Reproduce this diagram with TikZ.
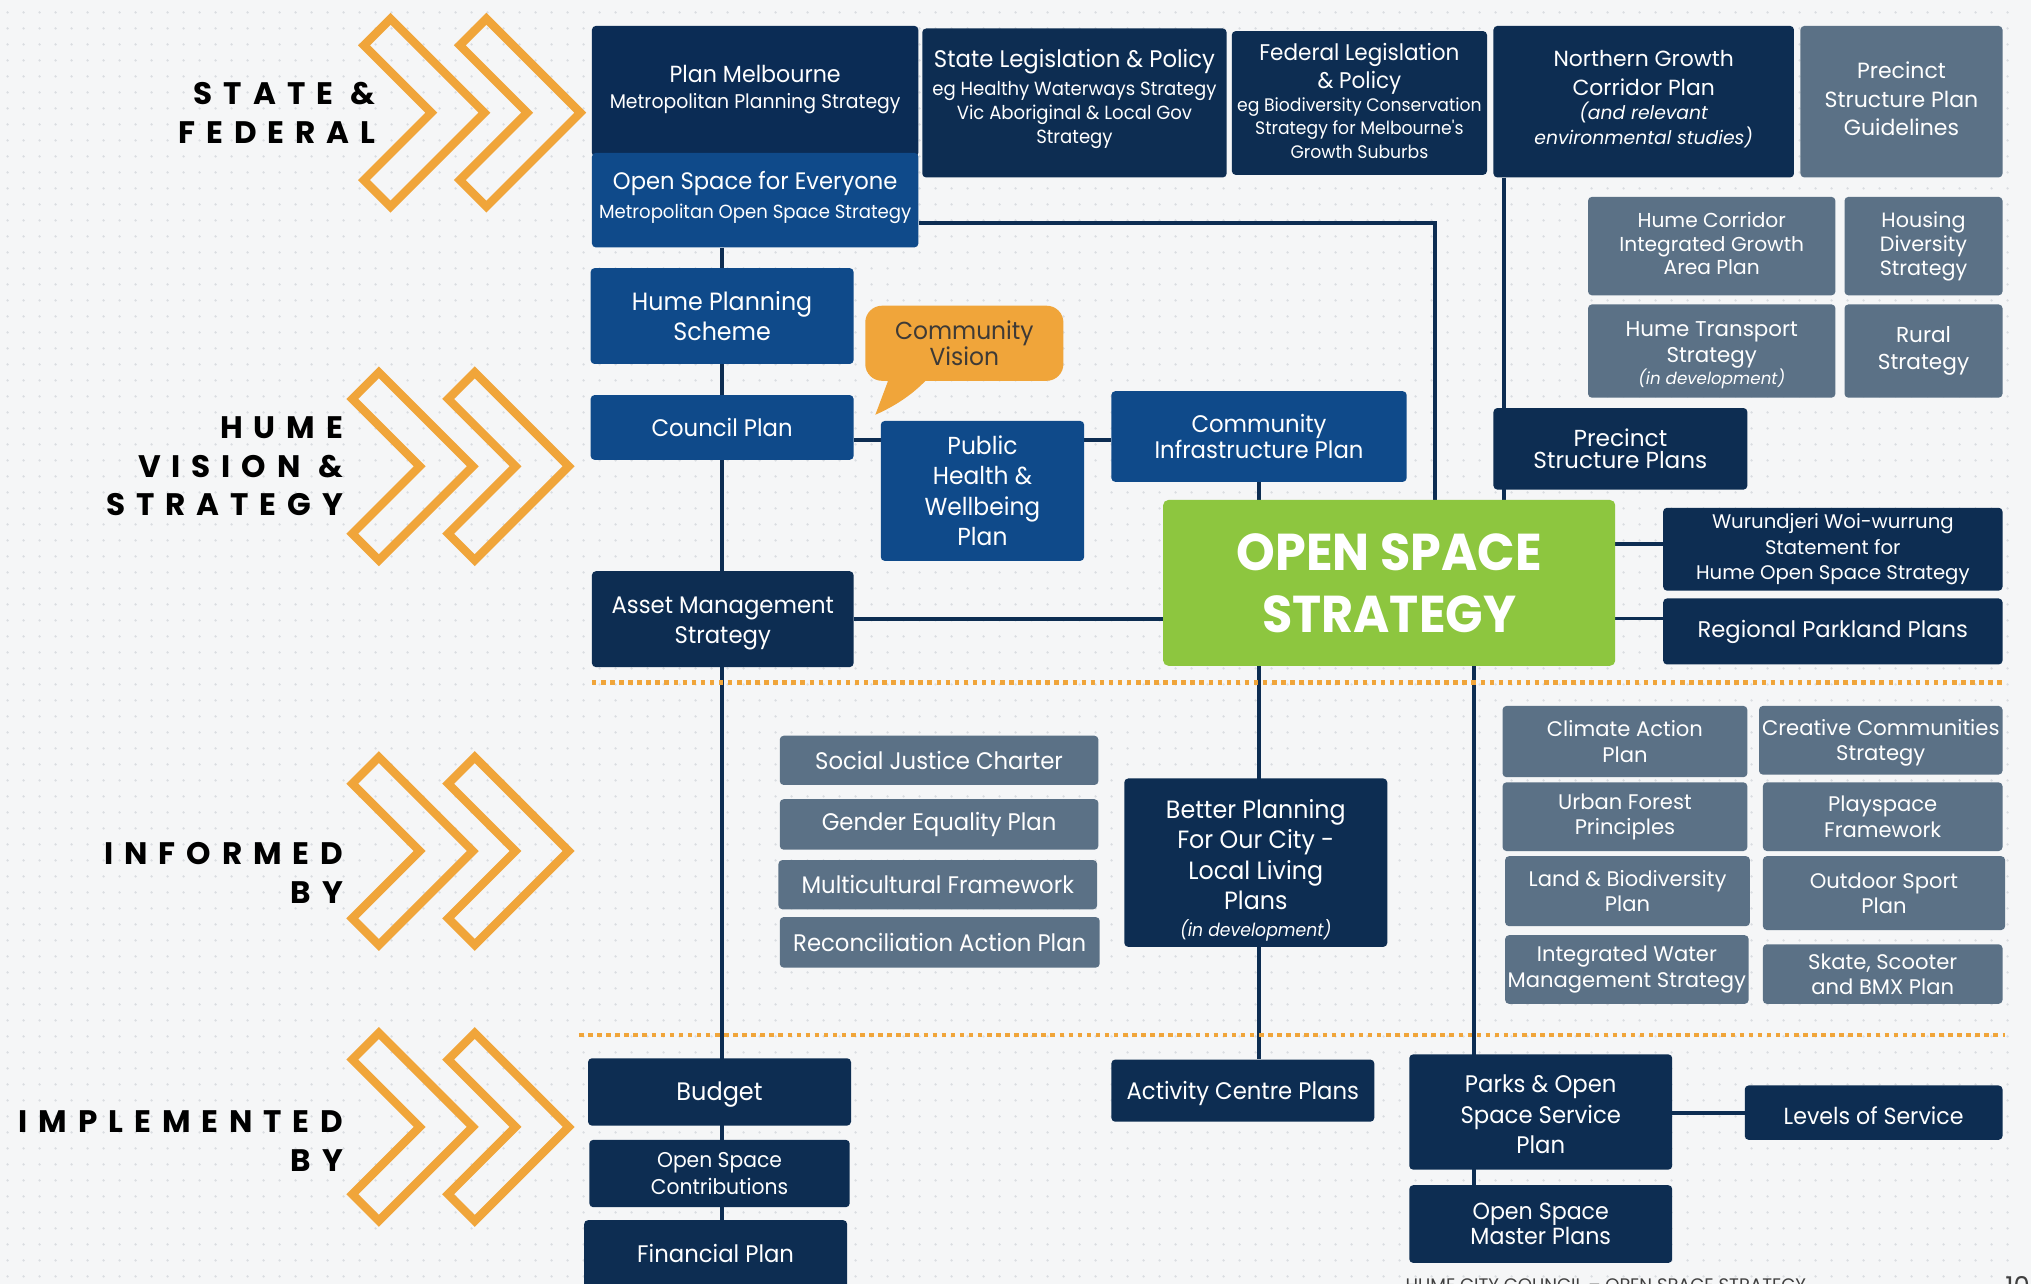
\documentclass[tikz,border=0pt]{standalone}
\usepackage{fontspec}
\setmainfont{Poppins}
\newfontfamily\nar{Poppins}[FakeStretch=0.95]
\newfontfamily\lbl{Poppins}[LetterSpace=35]
\usetikzlibrary{calc,patterns}
\definecolor{navyc}{HTML}{0D2D52}
\definecolor{pmc}{HTML}{0B2C55}
\definecolor{bluec}{HTML}{0F4A8A}
\definecolor{grayc}{HTML}{5B7186}
\definecolor{greenc}{HTML}{8DC63F}
\definecolor{orangec}{HTML}{F0A53A}
\definecolor{bgc}{HTML}{F5F6F7}
\definecolor{dotc}{HTML}{DADDE1}
\definecolor{cvtext}{HTML}{3E3A36}
\pgfdeclarelayer{bg}\pgfdeclarelayer{lines}\pgfsetlayers{bg,lines,main}
\pgfdeclarepatternformonly{bgdots}{\pgfpointorigin}{\pgfpoint{12pt}{12pt}}{\pgfpoint{12pt}{12pt}}{\pgfpathcircle{\pgfpoint{6pt}{6pt}}{1pt}\pgfusepath{fill}}
\newcommand\fsz[2]{\fontsize{#1}{#2}\selectfont}
% \bx[text shift]{name}{x1}{y1}{x2}{y2}{style}{text}
\newcommand{\bx}[8][0]{%
 \pgfmathsetmacro{\bxcx}{(#3+#5)/2}\pgfmathsetmacro{\bxcy}{(#4+#6)/2}%
 \pgfmathsetmacro{\bxww}{#5-#3}\pgfmathsetmacro{\bxhh}{#6-#4}%
 \node[#7, minimum width=\bxww pt, minimum height=\bxhh pt] (#2) at (\bxcx,\bxcy) {};%
 \node[#7, fill=none, yshift=#1pt] (#2t) at (#2.center) {#8};}
\newcommand\chev[2]{%
 \draw[chevst] (#1,#2-52) -- (#1+20.5,#2-72.5) -- (#1+93,#2) -- (#1+20.5,#2+72.5) -- (#1,#2+52) -- (#1+52,#2) -- cycle;}
\begin{document}
\begin{tikzpicture}[x=1pt,y=-1pt,
 box/.style={rounded corners=3pt, align=center, inner sep=0pt, text=white},
 navy/.style={box, fill=navyc},
 blu/.style={box, fill=bluec},
 gry/.style={box, fill=grayc},
 fn/.style={font=\nar\fsz{18.5}{23.5}},
 fw/.style={font=\fsz{16.3}{19.5}},
 conn/.style={draw=navyc, line width=3pt},
 chevst/.style={draw=orangec, line width=6.5pt},
 dotline/.style={draw=orangec, line width=3.5pt, dash pattern=on 3.5pt off 3.5pt},
 lab/.style={font=\lbl\bfseries\fsz{24}{30}, text=black, align=right, inner sep=0pt, anchor=east},
]
\useasboundingbox (0,0) rectangle (1568,991);
\clip (0,0) rectangle (1568,991);
\begin{pgfonlayer}{bg}
\fill[bgc] (0,0) rectangle (1568,991);
\fill[pattern=bgdots, pattern color=dotc] (0,0) rectangle (1556,991);
\end{pgfonlayer}

% chevrons
\chev{281}{87}\chev{355}{87}
\chev{272}{360}\chev{346}{360}
\chev{272}{657}\chev{346}{657}
\chev{272}{870}\chev{346}{870}

% labels
\node[lab] (lsf) at (290,87) {STATE \&\\FEDERAL};
\node[lab] (lhv) at (265,360) {HUME\\VISION \&\\STRATEGY};
\node[lab] (lib) at (265,674) {INFORMED\\BY};
\node[lab] (lim) at (265,881) {IMPLEMENTED\\BY};

% top row
\bx[1.5]{pm}{457}{20}{709}{121}{box, fill=pmc, font=\nar\fsz{15.3}{20}}{\fsz{18}{20}Plan Melbourne\\Metropolitan Planning Strategy}
\bx[2]{ose}{457}{118}{709}{191}{blu, font=\nar\fsz{14.7}{22}}{\fsz{18.4}{22}Open Space for Everyone\\Metropolitan Open Space Strategy}
\bx[3]{slp}{712}{22}{947}{137}{navy, font=\nar\fsz{14.7}{18.5}}{\fsz{18.5}{22}State Legislation \& Policy\\[3.5pt]eg Healthy Waterways Strategy\\Vic Aboriginal \& Local Gov\\Strategy}
\bx[1.5]{flp}{951}{24}{1148}{135}{navy, font=\nar\fsz{14}{18}}{\fsz{17.5}{20}Federal Legislation\\[2pt]\fsz{17.5}{20}\& Policy\\eg Biodiversity Conservation\\Strategy for Melbourne's\\Growth Suburbs}
\bx[2]{ngc}{1153}{20}{1385}{137}{navy, font=\fsz{16.9}{19}}{Northern Growth\\[3pt]Corridor Plan\\\itshape\fsz{14.5}{19}(and relevant\\\itshape\fsz{14.5}{19}environmental studies)}
\bx[2]{pspg}{1390}{20}{1546}{137}{gry, font=\fsz{17}{22}}{Precinct\\Structure Plan\\Guidelines}
\bx[2]{hcig}{1226}{152}{1417}{228}{gry, font=\fsz{15.6}{18}}{Hume Corridor\\Integrated Growth\\Area Plan}
\bx{hds}{1424}{152}{1546}{228}{gry, font=\fsz{16}{18.5}}{Housing\\Diversity\\Strategy}
\bx[-3]{hts}{1226}{235}{1417}{307}{gry, font=\fsz{16.5}{20}}{Hume Transport\\Strategy\\[-3pt]\itshape\fsz{12.9}{17}(in development)}
\bx{rs}{1424}{235}{1546}{307}{gry, font=\fsz{16.7}{21}}{Rural\\Strategy}
\bx{psp}{1153}{315}{1349}{378}{navy, font=\fsz{17.9}{17}}{Precinct\\Structure Plans}

% hume vision
\bx{hps}{456}{207}{659}{281}{blu, font=\nar\fsz{19.3}{23}}{Hume Planning\\Scheme}
\bx{cv}{668}{236}{821}{294}{box, fill=orangec, text=cvtext, rounded corners=13pt, font=\nar\fsz{19}{18}}{Community\\Vision}
\fill[orangec] ($(cv.south west)+(20,-6)$) -- ($(cv.south west)+(8,26)$) .. controls ($(cv.south west)+(26,18)$) and ($(cv.south west)+(40,8)$) .. ($(cv.south west)+(52,-6)$) -- cycle;
\bx{cp}{456}{305}{659}{355}{blu, fn}{Council Plan}
\bx{phw}{680}{325}{837}{433}{blu, font=\nar\fsz{19}{23.5}}{Public\\Health \&\\Wellbeing\\Plan}
\bx{cip}{858}{302}{1086}{372}{blu, font=\nar\fsz{18.5}{19.5}}{Community\\Infrastructure Plan}
\bx{oss}{898}{386}{1247}{514}{box, fill=greenc, rounded corners=4pt, font=\nar\bfseries\fsz{40}{48}}{OPEN SPACE\\STRATEGY}
\bx{wur}{1284}{392}{1546}{456}{navy, font=\fsz{15.2}{19.5}}{Wurundjeri Woi-wurrung\\Statement for\\Hume Open Space Strategy}
\bx{rpp}{1284}{462}{1546}{513}{navy, font=\fsz{17.5}{20}}{Regional Parkland Plans}
\bx[-3]{amg}{457}{441}{659}{515}{navy, font=\nar\fsz{18.5}{23}}{Asset Management\\Strategy}

% informed by
\bx{sjc}{602}{568}{848}{606}{gry, fn}{Social Justice Charter}
\bx{gep}{602}{617}{848}{656}{gry, fn}{Gender Equality Plan}
\bx{mcf}{601}{664}{847}{702}{gry, fn}{Multicultural Framework}
\bx{rap}{602}{708}{849}{747}{gry, fn}{Reconciliation Action Plan}
\bx[-6]{bp}{868}{601}{1071}{731}{navy, font=\nar\fsz{19.3}{23.5}}{Better Planning\\For Our City -\\Local Living\\Plans\\[-2.5pt]\itshape\fsz{14}{21}(in development)}
\bx{cap}{1160}{545}{1349}{600}{gry, fw}{Climate Action\\Plan}
\bx[-2]{ccs}{1358}{545}{1546}{598}{gry, fw}{Creative Communities\\Strategy}
\bx{ufp}{1160}{604}{1349}{657}{gry, fw}{Urban Forest\\Principles}
\bx{ppf}{1361}{604}{1546}{657}{gry, fw}{Playspace\\Framework}
\bx{lbp}{1162}{661}{1351}{715}{gry, fw}{Land \& Biodiversity\\Plan}
\bx{osp}{1361}{661}{1548}{718}{gry, fw}{Outdoor Sport\\Plan}
\bx{iwm}{1162}{722}{1350}{775}{gry, fw}{Integrated Water\\Management Strategy}
\bx{ssb}{1361}{729}{1546}{775}{gry, fw}{Skate, Scooter\\and BMX Plan}

% implemented by
\bx[-2]{bud}{454}{817}{657}{869}{navy, font=\nar\fsz{19.5}{23}}{Budget}
\bx{osc}{455}{880}{656}{932}{navy, font=\nar\fsz{16.5}{21}}{Open Space\\Contributions}
\bx{fin}{451}{942}{654}{994}{navy, fn}{Financial Plan}
\bx[-2]{acp}{858}{818}{1061}{866}{navy, fn}{Activity Centre Plans}
\bx[-2]{pos}{1088}{814}{1291}{903}{navy, fn}{Parks \& Open\\Space Service\\Plan}
\bx[-2]{los}{1347}{838}{1546}{880}{navy, font=\nar\fsz{18}{22}}{Levels of Service}
\bx{osmp}{1088}{915}{1291}{975}{navy, font=\nar\fsz{18}{17}}{Open Space\\Master Plans}

% footer
\node[anchor=base west, inner sep=0pt, text=black!75, font=\fsz{14}{14}] (foot) at (1085,997) {HUME CITY COUNCIL – OPEN SPACE STRATEGY};
\node[anchor=base west, inner sep=0pt, text=black!75, font=\fsz{20}{20}] (pg) at (1548,1000) {10};

% connectors
\begin{pgfonlayer}{lines}
\draw[conn] (hps.center |- ose.south) -- (hps.center |- fin.north);
\draw[conn] ([yshift=-18pt]ose.east) -| ([xshift=35.5pt]oss.north);
\draw[conn] ([yshift=-10pt]cp.east) -- ([yshift=-10pt]cp.east -| phw.west);
\draw[conn] ([yshift=-10pt]cp.east -| phw.east) -- ([yshift=-10pt]cp.east -| cip.west);
\draw[conn] (cip.south) -- (cip.south |- acp.north);
\draw[conn] ([xshift=8pt]ngc.south west) -- ([xshift=8pt]ngc.south west |- oss.north);
\draw[conn] (amg.east) -- (amg.east -| oss.west);
\draw[conn] ([yshift=4pt]wur.west -| oss.east) -- ([yshift=4pt]wur.west);
\draw[conn] ([yshift=10pt]rpp.west -| oss.east) -- ([yshift=10pt]rpp.west);
\draw[conn] ([xshift=-51.5pt]pos.north |- oss.south) -- ([xshift=-51.5pt]osmp.north);
\draw[conn] (pos.east |- los.west) -- (los.west);
\draw[dotline] (457,527) -- (1548,527);
\draw[dotline] (447,799) -- (1548,799);
\end{pgfonlayer}
\end{tikzpicture}
\end{document}
